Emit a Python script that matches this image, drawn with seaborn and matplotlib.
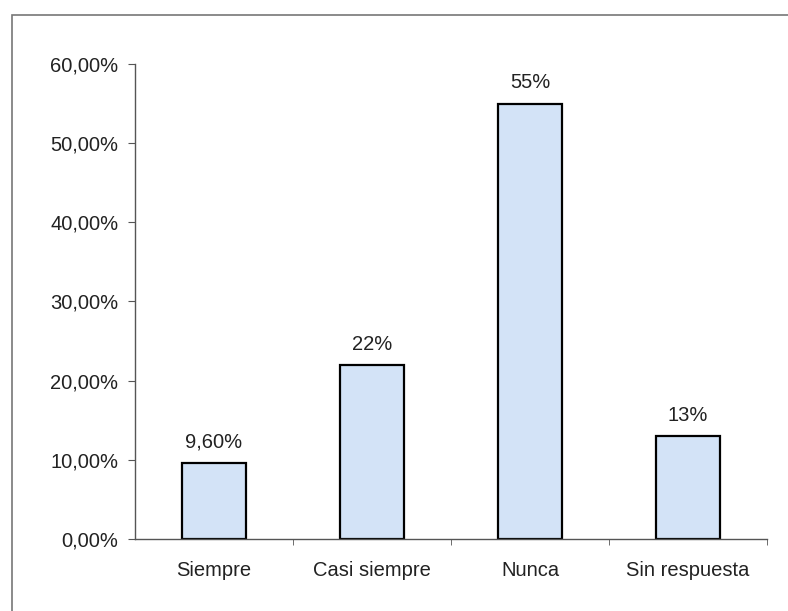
import pandas as pd
import seaborn as sns
import matplotlib.pyplot as plt
from matplotlib.patches import Rectangle

# Data
categories = ['Siempre', 'Casi siempre', 'Nunca', 'Sin respuesta']
values = [9.6, 22, 55, 13]
bar_labels = ['9,60%', '22%', '55%', '13%']
y_ticks = [0, 10, 20, 30, 40, 50, 60]
y_tick_labels = ['0,00%', '10,00%', '20,00%', '30,00%', '40,00%', '50,00%', '60,00%']

df = pd.DataFrame({'Respuesta': categories, 'Porcentaje': values})

sns.set_style('white')
plt.rcParams['font.family'] = ['Liberation Sans', 'DejaVu Sans']
fs = 14.5

fig = plt.figure(figsize=(7.88, 6.11), dpi=100)
ax = fig.add_axes([0.1713, 0.1178, 0.8021, 0.7775])

sns.barplot(data=df, x='Respuesta', y='Porcentaje', order=categories,
            color='#d3e3f7', edgecolor='black', linewidth=1.6, width=0.4,
            saturation=1, ax=ax)

for i, (v, lab) in enumerate(zip(values, bar_labels)):
    ax.annotate(lab, (i, v), xytext=(0, 8), textcoords='offset points',
                ha='center', va='bottom', fontsize=fs, color='#222222')

ax.set_xlim(-0.5, 3.5)
ax.set_ylim(0, 60)
ax.set_yticks(y_ticks)
ax.set_yticklabels(y_tick_labels, fontsize=fs, color='#222222')
ax.set_xticks(range(len(categories)))
ax.set_xticklabels(categories, fontsize=fs, color='#222222')
ax.set_xticks([0.5, 1.5, 2.5, 3.5], minor=True)
ax.tick_params(axis='x', which='major', length=0, pad=16)
ax.tick_params(axis='x', which='minor', length=4, direction='out', color='#555555', bottom=True)
ax.tick_params(axis='y', which='major', length=5, direction='out', color='#555555', left=True, pad=7)
ax.set_xlabel('')
ax.set_ylabel('')

for s in ['top', 'right']:
    ax.spines[s].set_visible(False)
for s in ['left', 'bottom']:
    ax.spines[s].set_color('#555555')
    ax.spines[s].set_linewidth(1.0)

# thin frame (top and left edges visible in the scan)
fig.patches.append(Rectangle((12 / 788, -0.1), 1.2, 1.1 - 15 / 611,
                             transform=fig.transFigure, fill=False,
                             edgecolor='#777777', linewidth=1.2))

fig.savefig('out.png', dpi=100)
